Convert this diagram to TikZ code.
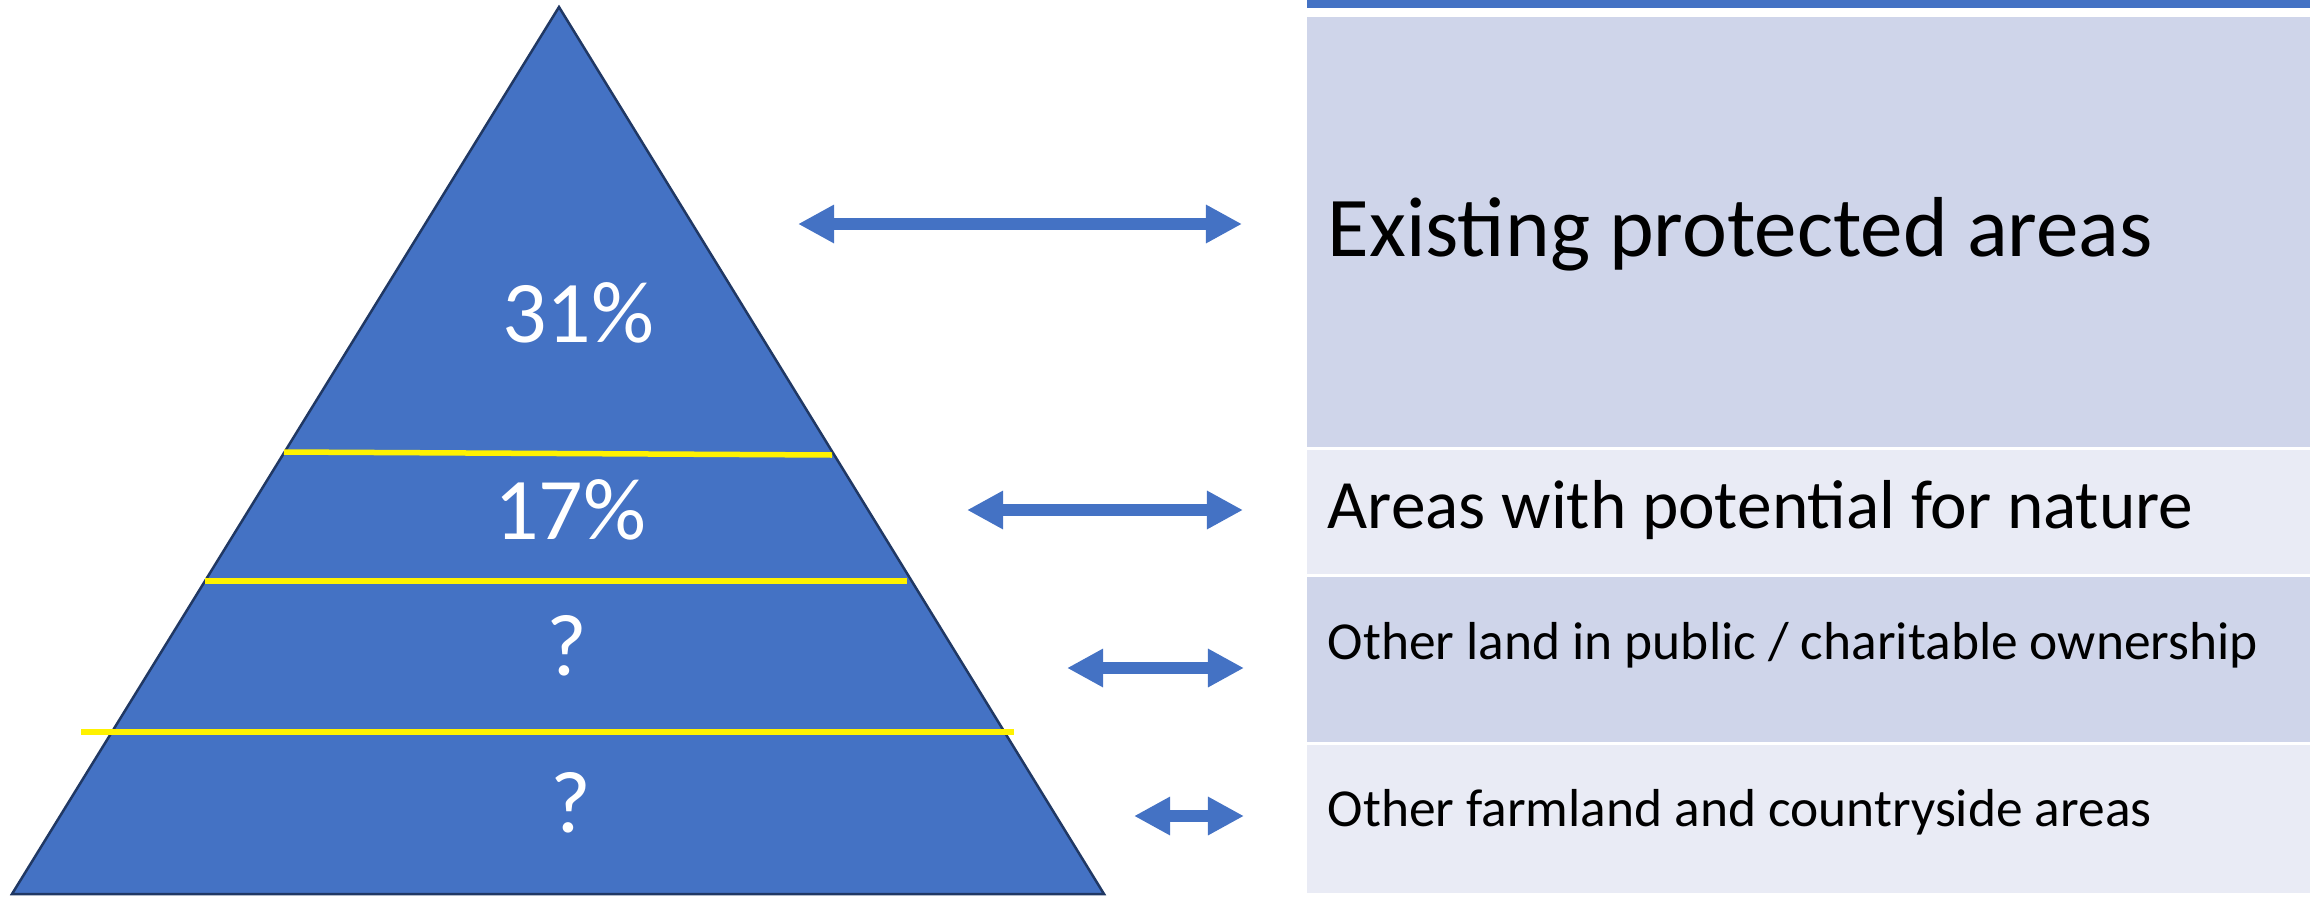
\documentclass[tikz,border=0pt]{standalone}
\usepackage{fontspec}
\setmainfont{Carlito}
\usetikzlibrary{arrows.meta}
\definecolor{pyrblue}{HTML}{4472C4}
\definecolor{pyredge}{HTML}{203864}
\definecolor{rowdark}{HTML}{CFD5EA}
\definecolor{rowlight}{HTML}{E9EBF5}

\begin{document}
\begin{tikzpicture}[x=0.01cm, y=-0.01cm,
  band/.style={yellow, line width=0.055cm},
  link/.style={pyrblue, line width=0.12cm,
    {Triangle[length=0.36cm, width=0.36cm]}-{Triangle[length=0.36cm, width=0.36cm]}},
  pct/.style={white, inner sep=0pt, font=\fontsize{25pt}{30pt}\selectfont},
  lbl/.style={anchor=base west, inner sep=0pt}]
  \useasboundingbox (0,0) rectangle (2318,897);
  % pyramid
  \coordinate (T) at (559,7);
  \coordinate (L) at (12,894);
  \coordinate (R) at (1104,894);
  \draw[pyredge, fill=pyrblue, line width=0.025cm] (T) -- (R) -- (L) -- cycle;
  \draw[band] (284,452) -- (832,455);
  \draw[band] (205,581) -- (907,581);
  \draw[band] (81,732) -- (1014,732);
  \node[pct] (p1) at (578,313) {31\%};
  \node[pct] (p2) at (570,510) {17\%};
  \node[pct] (p3) at (567,646) {?};
  \node[pct] (p4) at (571,803) {?};
  % table
  \fill[pyrblue] (1307,0) rectangle (2310,8);
  \fill[rowdark] (1307,17) rectangle (2310,447);
  \fill[rowlight] (1307,450) rectangle (2310,574);
  \fill[rowdark] (1307,577) rectangle (2310,742);
  \fill[rowlight] (1307,745) rectangle (2310,893);
  \node[lbl, font=\fontsize{24.2pt}{28pt}\selectfont] (t1) at (1327,256) {Existing protected areas};
  \node[lbl, font=\fontsize{19.7pt}{24pt}\selectfont] (t2) at (1327,528) {Areas with potential for nature};
  \node[lbl, font=\fontsize{15.2pt}{18pt}\selectfont] (t3) at (1327,659) {Other land in public / charitable ownership};
  \node[lbl, font=\fontsize{15.2pt}{18pt}\selectfont] (t4) at (1327,826) {Other farmland and countryside areas};
  % arrows
  \coordinate (a1) at (798,224);  \coordinate (b1) at (1242,224);
  \coordinate (a2) at (967,510);  \coordinate (b2) at (1243,510);
  \coordinate (a3) at (1067,668); \coordinate (b3) at (1244,668);
  \coordinate (a4) at (1134,816); \coordinate (b4) at (1244,816);
  \draw[link] (a1) -- (b1);
  \draw[link] (a2) -- (b2);
  \draw[link] (a3) -- (b3);
  \draw[link] (a4) -- (b4);
\end{tikzpicture}
\end{document}
